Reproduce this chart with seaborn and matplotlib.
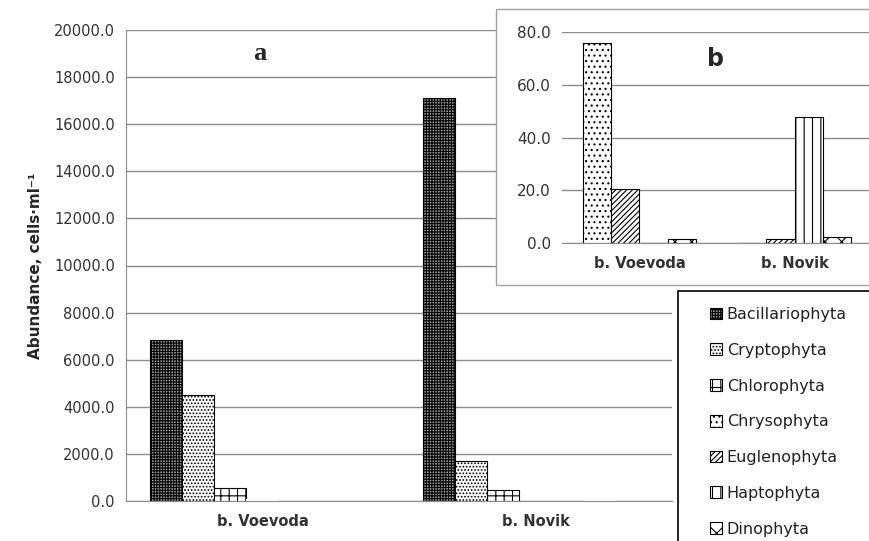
import numpy as np
import pandas as pd
import matplotlib.pyplot as plt
import matplotlib.patches as mpatches
import seaborn as sns

# Data (abundance, cells per ml)
sites = ['b. Voevoda', 'b. Novik']
groups = ['Bacillariophyta', 'Cryptophyta', 'Chlorophyta', 'Chrysophyta',
          'Euglenophyta', 'Haptophyta', 'Dinophyta']
voevoda = [6850.0, 4490.0, 540.0, 76.0, 20.4, 0.0, 1.6]
novik = [17120.0, 1710.0, 470.0, 0.0, 1.6, 47.7, 2.4]
inset_groups = ['Chrysophyta', 'Euglenophyta', 'Haptophyta', 'Dinophyta']
main_ticks = [0, 2000, 4000, 6000, 8000, 10000, 12000, 14000, 16000, 18000, 20000]
inset_ticks = [0, 20, 40, 60, 80]

hatches = {
    'Bacillariophyta': '++++++',
    'Cryptophyta': '.....',
    'Chlorophyta': '++',
    'Chrysophyta': '...',
    'Euglenophyta': '//////',
    'Haptophyta': '||',
    'Dinophyta': 'xx',
}
faces = {g: 'white' for g in groups}
faces['Bacillariophyta'] = '#9a9a9a'

df = pd.DataFrame({
    'site': np.repeat(sites, len(groups)),
    'group': groups * len(sites),
    'abundance': voevoda + novik,
})

sns.set_style('white')
plt.rcParams['font.family'] = ['DejaVu Sans']
plt.rcParams['hatch.linewidth'] = 0.8

grid_col = '#8c8c8c'
text_col = '#333333'

fig = plt.figure(figsize=(8.69, 5.41), dpi=100)

# Main chart (a)
ax = fig.add_axes([126 / 869, 1 - 501 / 541, 546 / 869, 471 / 541])
sns.barplot(data=df, x='site', y='abundance', hue='group', order=sites,
            hue_order=groups, palette=faces,
            saturation=1, width=7 / 8.5, edgecolor='black', linewidth=0.8,
            errorbar=None, legend=False, ax=ax)
for cont, g in zip(ax.containers, groups):
    for bar in cont:
        if g in inset_groups:
            # too small to see at this scale, shown in the inset instead
            bar.set_edgecolor('none')
        else:
            bar.set_hatch(hatches[g])

ax.set_ylim(0, 20000)
ax.set_xlim(-0.5, 1.5)
ax.set_yticks(main_ticks)
ax.set_yticklabels([f'{v:.1f}' for v in main_ticks], fontsize=10.5, color=text_col)
ax.set_xticks([0, 1])
ax.set_xticklabels(sites, fontsize=10.5, fontweight='bold', color=text_col)
ax.set_xticks([-0.5, 0.5, 1.5], minor=True)
ax.tick_params(axis='x', which='major', length=0, pad=9)
ax.tick_params(axis='x', which='minor', length=6, color=grid_col)
ax.tick_params(axis='y', length=5, color=grid_col, pad=3)
ax.yaxis.grid(True, color=grid_col, lw=1)
ax.set_axisbelow(True)
for s in ['top', 'right']:
    ax.spines[s].set_visible(False)
for s in ['left', 'bottom']:
    ax.spines[s].set_color(grid_col)
ax.set_xlabel('')
ax.set_ylabel('Abundance, cells·ml⁻¹', fontsize=11, fontweight='bold', labelpad=8)
ax.text(0.245, 0.95, 'a', transform=ax.transAxes, ha='center', va='center',
        fontsize=19, fontweight='bold', family='Liberation Serif')

# Inset panel (b)
fig.patches.append(mpatches.Rectangle((496 / 869, 1 - 285 / 541), 380 / 869, 276 / 541,
                                      transform=fig.transFigure, facecolor='white',
                                      edgecolor='#a0a0a0', lw=1, zorder=2))
axb = fig.add_axes([562 / 869, 1 - 243 / 541, 310 / 869, 211 / 541], zorder=3)
dfb = df[df['group'].isin(inset_groups)]
sns.barplot(data=dfb, x='site', y='abundance', hue='group', order=sites,
            hue_order=inset_groups, palette={g: faces[g] for g in inset_groups},
            saturation=1, width=4 / 5.5, edgecolor='black', linewidth=0.8,
            errorbar=None, legend=False, ax=axb)
for cont, g in zip(axb.containers, inset_groups):
    for bar in cont:
        bar.set_hatch(hatches[g])

axb.set_facecolor('none')
axb.set_ylim(0, 80)
axb.set_xlim(-0.5, 1.5)
axb.set_yticks(inset_ticks)
axb.set_yticklabels([f'{v:.1f}' for v in inset_ticks], fontsize=11, color=text_col)
axb.set_xticks([0, 1])
axb.set_xticklabels(sites, fontsize=10.5, fontweight='bold', color=text_col)
axb.set_xticks([-0.5, 0.5, 1.5], minor=True)
axb.tick_params(axis='x', which='major', length=0, pad=9)
axb.tick_params(axis='x', which='minor', length=6, color=grid_col)
axb.tick_params(axis='y', length=5, color=grid_col, pad=3)
axb.yaxis.grid(True, color=grid_col, lw=1)
axb.set_axisbelow(True)
for s in ['top', 'right', 'left']:
    axb.spines[s].set_visible(False)
axb.spines['bottom'].set_color(grid_col)
axb.set_xlabel('')
axb.set_ylabel('')
axb.text(0.495, 0.87, 'b', transform=axb.transAxes, ha='center', va='center',
         fontsize=17, fontweight='bold')

# Legend box
fig.patches.append(mpatches.Rectangle((678 / 869, -0.05), 200 / 869, 1 - 291 / 541 + 0.05,
                                      transform=fig.transFigure, facecolor='white',
                                      edgecolor='black', lw=1.2, zorder=4))
handles = [mpatches.Patch(facecolor=faces[g], edgecolor='black', hatch=hatches[g], lw=0.8)
           for g in groups]
leg = fig.legend(handles, groups, loc='upper left',
                 bbox_to_anchor=(710 / 869, 1 - 307 / 541), frameon=False,
                 fontsize=11.5, handlelength=0.75, handleheight=0.75,
                 handletextpad=0.3, labelspacing=1.3, borderpad=0, borderaxespad=0)
leg.set_zorder(5)
for t in leg.get_texts():
    t.set_color('#222222')

fig.savefig('out.png', dpi=100)
